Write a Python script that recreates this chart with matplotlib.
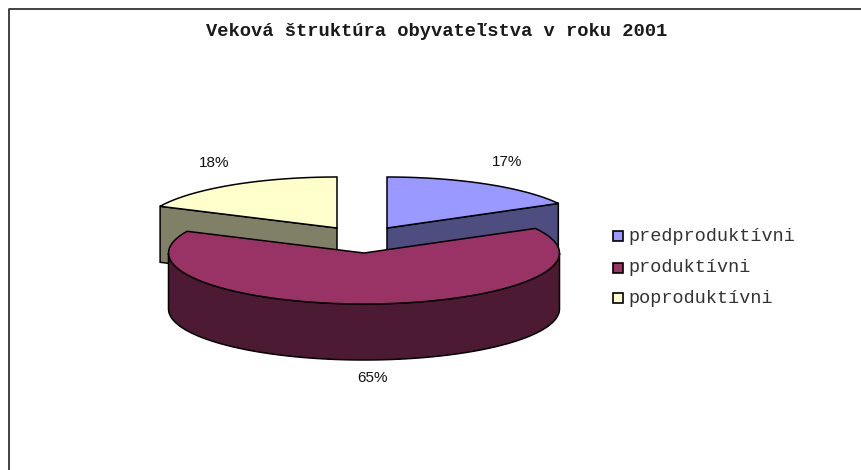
import numpy as np
import matplotlib
matplotlib.use('Agg')
import matplotlib.pyplot as plt
from matplotlib.patches import Polygon, Rectangle

# Data
CATEGORIES = ['predproduktívni', 'produktívni', 'poproduktívni']
VALUES = [17, 65, 18]
LABELS = ['17%', '65%', '18%']
TITLE = 'Veková štruktúra obyvateľstva v roku 2001'

# Styles
TOP_COLORS = ['#9999FF', '#993366', '#FFFFCC']
SIDE_COLORS = ['#4D4D80', '#4D1A33', '#808066']

# Geometry of the fake 3D pie, in image pixels
A = 195.5
B = 51
DEPTH = 56
CENTERS = [(387, 228), (364, 253), (337, 228)]
LABEL_POS = [(507.5, 162), (373, 378), (214.5, 163)]
LEGEND_Y = [236, 267.5, 298]


def arc(cx, cy, a0, a1, n=80):
    # angles clockwise from 12 o'clock, y axis points down
    t = np.radians(np.linspace(a0, a1, n))
    return np.column_stack([cx + A * np.sin(t), cy - B * np.cos(t)])


def draw_top(ax, cx, cy, a0, a1, color, z):
    pts = np.vstack([[(cx, cy)], arc(cx, cy, a0, a1)])
    ax.add_patch(Polygon(pts, closed=True, fc=color, ec='black', lw=1.1, zorder=z))


def draw_cut_wall(ax, cx, cy, angle, color, z):
    end = arc(cx, cy, angle, angle, 1)[0]
    pts = [(cx, cy), tuple(end), (end[0], end[1] + DEPTH), (cx, cy + DEPTH)]
    ax.add_patch(Polygon(pts, closed=True, fc=color, ec='black', lw=1.1, zorder=z))


def draw_outer_wall(ax, cx, cy, a0, a1, color, z):
    top = arc(cx, cy, a0, a1)
    bottom = top[::-1] + [0, DEPTH]
    ax.add_patch(Polygon(np.vstack([top, bottom]), closed=True, fc=color, ec='black', lw=1.1, zorder=z))


fig = plt.figure(figsize=(8.61, 4.70), dpi=100)
ax = fig.add_axes([0, 0, 1, 1])
ax.set_xlim(0, 861)
ax.set_ylim(470, 0)
ax.axis('off')

# chart border, open at the right and bottom edge of the crop
ax.plot([9.2, 9.2, 861], [470, 9.2, 9.2], color='#222222', lw=1.2, zorder=1)

cum = np.cumsum([0] + VALUES) / sum(VALUES) * 360
a_blue = (cum[0], cum[1])
a_maroon = (cum[1], cum[2])
a_yellow = (cum[2], cum[3])

# back slices first
draw_cut_wall(ax, *CENTERS[0], a_blue[1], SIDE_COLORS[0], 2)
draw_top(ax, *CENTERS[0], *a_blue, TOP_COLORS[0], 3)
draw_cut_wall(ax, *CENTERS[2], a_yellow[0], SIDE_COLORS[2], 2)
draw_top(ax, *CENTERS[2], *a_yellow, TOP_COLORS[2], 3)

# big front slice
draw_outer_wall(ax, *CENTERS[1], 90, 270, SIDE_COLORS[1], 4)
draw_top(ax, *CENTERS[1], *a_maroon, TOP_COLORS[1], 5)

for (x, y), lab in zip(LABEL_POS, LABELS):
    ax.text(x, y, lab, ha='center', va='center', fontsize=11, family='Liberation Sans',
            color='#111111', zorder=6)

ax.text(436.5, 32, TITLE, ha='center', va='center', fontsize=13.5, fontweight='bold',
        family='Liberation Mono', color='#1a1a1a')

for y, name, col in zip(LEGEND_Y, CATEGORIES, TOP_COLORS):
    ax.add_patch(Rectangle((612.5, y - 5), 10, 10, fc=col, ec='black', lw=1.2, zorder=6))
    ax.text(628, y + 0.5, name, ha='left', va='center', fontsize=13.3, family='Liberation Mono', color='#333333')

fig.savefig('out.png', dpi=100, facecolor='white')
plt.close()
